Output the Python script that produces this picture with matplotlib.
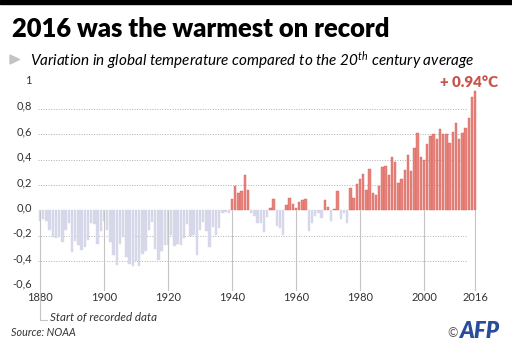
import matplotlib
matplotlib.use("Agg")
import matplotlib.pyplot as plt
from matplotlib.patches import Polygon, Rectangle
from matplotlib.lines import Line2D
from matplotlib.transforms import ScaledTranslation

# Global land+ocean temperature anomaly vs 20th century average (NOAA), degC
years = list(range(1880, 2017))
anomalies = [
    -0.08, -0.07, -0.08, -0.15, -0.21, -0.22, -0.21, -0.25, -0.15, -0.10,  # 1880s
    -0.33, -0.24, -0.27, -0.31, -0.29, -0.23, -0.10, -0.11, -0.26, -0.16,  # 1890s
    -0.08, -0.15, -0.25, -0.35, -0.43, -0.26, -0.21, -0.37, -0.42, -0.44,  # 1900s
    -0.40, -0.44, -0.34, -0.32, -0.15, -0.09, -0.30, -0.39, -0.32, -0.27,  # 1910s
    -0.27, -0.19, -0.28, -0.26, -0.27, -0.22, -0.11, -0.20, -0.19, -0.35,  # 1920s
    -0.15, -0.09, -0.16, -0.29, -0.13, -0.19, -0.14, -0.02, -0.01, -0.02,  # 1930s
    0.09, 0.19, 0.14, 0.15, 0.28, 0.16, -0.02, -0.04, -0.10, -0.10,        # 1940s
    -0.17, -0.05, 0.02, 0.09, -0.12, -0.14, -0.19, 0.04, 0.10, 0.05,       # 1950s
    0.02, 0.07, 0.08, 0.09, -0.16, -0.10, -0.04, -0.02, -0.06, 0.08,       # 1960s
    0.03, -0.08, 0.01, 0.15, -0.07, -0.02, -0.10, 0.18, 0.10, 0.21,        # 1970s
    0.25, 0.29, 0.16, 0.33, 0.14, 0.12, 0.19, 0.34, 0.35, 0.28,            # 1980s
    0.42, 0.38, 0.22, 0.25, 0.32, 0.44, 0.31, 0.49, 0.61, 0.42,            # 1990s
    0.40, 0.52, 0.59, 0.60, 0.56, 0.64, 0.60, 0.60, 0.53, 0.62,            # 2000s
    0.69, 0.56, 0.61, 0.65, 0.73, 0.89, 0.94,                              # 2010s
]

ytick_values = [-0.6, -0.4, -0.2, 0.0, 0.2, 0.4, 0.6, 0.8, 1.0]
ytick_labels = ["-0,6", "-0,4", "-0,2", "0,0", "0,2", "0,4", "0,6", "0,8", "1"]
grid_values = [-0.4, -0.2, 0.2, 0.4, 0.6, 0.8]
xtick_years = [1880, 1900, 1920, 1940, 1960, 1980, 2000, 2016]

WARM = "#e9847c"
WARM_EDGE = "#d0625a"
COOL = "#d7d7ea"
HIGHLIGHT = "#c8554b"
TEXT = "#333333"

W, H = 512, 349

plt.rcParams["font.family"] = ["Lato", "DejaVu Sans"]
plt.rcParams["mathtext.fontset"] = "custom"
plt.rcParams["mathtext.rm"] = "Lato"
plt.rcParams["mathtext.it"] = "Lato:italic"


def fx(x):
    return x / W


def fy(y):
    return 1 - y / H


def fit_width(txt, target_px, renderer):
    w = txt.get_window_extent(renderer).width
    txt.set_fontsize(txt.get_fontsize() * target_px / w)


fig = plt.figure(figsize=(W / 100, H / 100), dpi=100)

# plot area: 3.2 px per year, ~127 px per degree
x0, x1 = 1878.8, 2017.2
y0, y1 = -0.63, 1.0
ax_left, ax_bottom = 36.2, 290.5
ax = fig.add_axes([fx(ax_left), fy(ax_bottom),
                   (x1 - x0) * 3.2 / W, (y1 - y0) * 127 / H])
ax.set_xlim(x0, x1)
ax.set_ylim(y0, y1)

colors = [WARM if v > 0 else COOL for v in anomalies]
edges = [WARM_EDGE if v > 0 else COOL for v in anomalies]
ax.bar(years, anomalies, width=0.72, color=colors, edgecolor=edges,
       linewidth=0.3, zorder=3)

ax.hlines(grid_values, 1879.4, 2013.5, colors="#b0b0b0",
          linestyles=(0, (1, 1.6)), linewidth=0.7, zorder=1)
ax.vlines(xtick_years, y0, 0, colors="#c4c4c4", linewidth=0.8, zorder=4)

ax.set_yticks(ytick_values)
ax.set_yticklabels(ytick_labels)
ax.set_xticks(xtick_years)
ax.set_xticklabels([str(y) for y in xtick_years])
ax.tick_params(length=0, labelsize=8, colors=TEXT)
ax.tick_params(axis="y", pad=3)
ax.tick_params(axis="x", pad=1)
for s in ax.spines.values():
    s.set_visible(False)
# tick labels sit a little above their grid lines
for lbl in ax.get_yticklabels():
    lbl.set_transform(lbl.get_transform() + ScaledTranslation(0, 3.5 / 100, fig.dpi_scale_trans))

# black strip along the top edge
fig.patches.append(Rectangle((0, fy(4)), 1, 4 / H, transform=fig.transFigure,
                             color="black", zorder=0))

title = fig.text(fx(12), fy(37), "2016 was the warmest on record",
                 fontsize=19, fontweight="heavy", color="black",
                 ha="left", va="baseline")

fig.patches.append(Polygon([(fx(10), fy(55)), (fx(10), fy(64)), (fx(19.5), fy(59.5))],
                           closed=True, transform=fig.transFigure,
                           color="#c4c4c4"))
subtitle = fig.text(fx(30), fy(66),
                    r"Variation in global temperature compared to the 20$^{\mathit{th}}$ century average",
                    fontsize=11, style="italic", color="black",
                    ha="left", va="baseline")

record = fig.text(fx(440), fy(87), f"+ {anomalies[-1]:.2f}°C",
                  fontsize=10, fontweight="heavy", color=HIGHLIGHT,
                  ha="left", va="baseline")

# bracket marking the first year of the record
fig.lines.append(Line2D([fx(40), fx(40), fx(47)], [fy(ax_bottom), fy(320), fy(320)],
                        transform=fig.transFigure, color="#c4c4c4", linewidth=0.8))
start = fig.text(fx(50), fy(317), "Start of recorded data", fontsize=8,
                 style="italic", color=TEXT, ha="left", va="center")
source = fig.text(fx(11), fy(333), "Source: NOAA", fontsize=8,
                  style="italic", color=TEXT, ha="left", va="center")

fig.text(fx(447), fy(333), "©", fontsize=9, color="#555555",
         ha="left", va="center")
afp = fig.text(fx(459), fy(332), "AFP", fontsize=11, fontweight="heavy",
               style="italic", color="#2a4d9b", ha="left", va="center")

renderer = fig.canvas.get_renderer()
fit_width(title, 378, renderer)
fit_width(subtitle, 442, renderer)
fit_width(record, 58, renderer)
fit_width(start, 107, renderer)
fit_width(source, 65, renderer)
fit_width(afp, 40, renderer)

fig.savefig("out.png", dpi=100)
